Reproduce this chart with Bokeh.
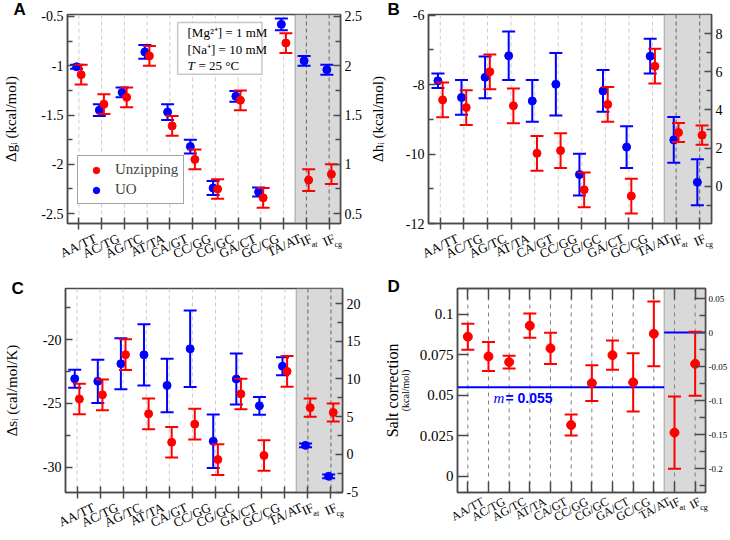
import numpy as np
from bokeh.plotting import figure
from bokeh.models import (Range1d, LinearAxis, FixedTicker, Label, Legend, LegendItem,
                          BoxAnnotation, Span)
from bokeh.layouts import column, row
from bokeh.embed import file_html
from bokeh.resources import INLINE

# ---------------- data ----------------
categories = ["AA/TT", "AC/TG", "AG/TC", "AT/TA", "CA/GT", "CC/GG", "CG/GC", "GA/CT", "GC/CG", "TA/AT"]
if_names = ["IF", "IF"]
if_subs = ["at", "cg"]

# Panel A: free energy (kcal/mol); IF values on right axis
dg_unz = [-1.09, -1.39, -1.32, -0.90, -1.61, -1.95, -2.25, -1.35, -2.34, -0.77]
dg_unz_err = [0.10, 0.10, 0.10, 0.10, 0.10, 0.10, 0.10, 0.10, 0.10, 0.10]
dg_uo = [-1.01, -1.45, -1.27, -0.86, -1.47, -1.82, -2.24, -1.31, -2.28, -0.58]
dg_uo_err = [0.02, 0.06, 0.05, 0.07, 0.08, 0.07, 0.07, 0.055, 0.045, 0.06]
dg_if_unz = [0.84, 0.90]
dg_if_unz_err = [0.11, 0.10]
dg_if_uo = [2.05, 1.96]
dg_if_uo_err = [0.05, 0.05]

# Panel B: enthalpy (kcal/mol)
dh_unz = [-8.44, -8.66, -7.63, -8.61, -9.98, -9.90, -11.03, -8.57, -11.21, -7.47]
dh_unz_err = [0.5, 0.5, 0.5, 0.5, 0.5, 0.5, 0.5, 0.5, 0.5, 0.5]
dh_uo = [-7.89, -8.37, -7.79, -7.17, -8.47, -7.99, -10.59, -8.18, -9.80, -7.18]
dh_uo_err = [0.21, 0.5, 0.6, 0.7, 0.6, 0.9, 0.6, 0.6, 0.6, 0.5]
dh_if_unz = [2.82, 2.68]
dh_if_unz_err = [0.5, 0.5]
dh_if_uo = [2.43, 0.21]
dh_if_uo_err = [1.2, 1.2]

# Panel C: entropy (cal/mol/K)
ds_unz = [-24.67, -24.34, -21.19, -25.83, -28.06, -26.64, -29.42, -24.27, -29.10, -22.50]
ds_unz_err = [1.2, 1.2, 1.2, 1.2, 1.2, 1.2, 1.2, 1.2, 1.2, 1.2]
ds_uo = [-23.08, -23.28, -21.90, -21.20, -23.60, -20.73, -27.98, -23.10, -25.20, -22.10]
ds_uo_err = [0.7, 1.7, 2.0, 2.4, 2.1, 3.0, 2.1, 2.0, 0.7, 0.7]
ds_if_unz = [6.2, 5.56]
ds_if_unz_err = [1.2, 1.2]
ds_if_uo = [1.2, -2.9]
ds_if_uo_err = [0.25, 0.25]

# Panel D: salt correction (kcal/mol)
salt = [0.0862, 0.074, 0.0705, 0.093, 0.079, 0.0316, 0.0575, 0.0748, 0.058, 0.088]
salt_err = [0.008, 0.009, 0.004, 0.0075, 0.0096, 0.0065, 0.011, 0.009, 0.018, 0.020]
salt_if = [-0.147, -0.046]
salt_if_err = [0.053, 0.047]
m_salt = 0.055
if_ref = 0.0

# ---------------- style ----------------
SERIF = "Liberation Serif"
SANS = "Liberation Sans"
RED = "#ff0000"
BLUE = "#0000ff"
FRAME = "#4a4a4a"
SHADE = "#d9d9d9"

N = len(categories)
X_CAT = np.arange(N, dtype=float)
X_IF = np.arange(N, N + 2, dtype=float)
X_RANGE = (-0.5, N + 1.5)
SHADE_START = N - 0.5
DX_UO, DX_UNZ = -0.1, 0.1
LAB_SHIFT = 2.0   # label axes use a shifted copy of the x range so shifted ticks stay in range

TIMES_W = {"A": .722, "C": .667, "G": .722, "T": .611, "/": .278, "I": .333, "F": .556,
           "a": .444, "t": .278, "c": .444, "g": .5}


def text_w(s, size):
    return sum(TIMES_W.get(ch, .5) for ch in s) * size


def fmt(v):
    return "%g" % v


def make_fig(w, h, bl, br, bt, bb, yr, yr2):
    p = figure(width=w, height=h, x_range=Range1d(*X_RANGE), y_range=Range1d(*yr),
               output_backend="svg", toolbar_location=None,
               min_border_left=bl, min_border_right=br, min_border_top=bt, min_border_bottom=bb)
    p.extra_y_ranges = {"r": Range1d(*yr2)}
    p.extra_x_ranges = {"lab": Range1d(X_RANGE[0] + LAB_SHIFT, X_RANGE[1] + LAB_SHIFT)}
    p.xgrid.visible = False
    p.ygrid.visible = False
    p.outline_line_color = FRAME
    p.outline_line_width = 1.5
    p.outline_line_alpha = 1.0
    p.background_fill_color = "white"
    p.border_fill_color = "white"
    return p


def style_axis(ax, major, minor, tin, tmin, size, tout=0, std=4):
    ax.ticker = FixedTicker(ticks=major, minor_ticks=minor)
    ax.major_label_overrides = {t: fmt(t) for t in major}
    ax.major_tick_in = tin
    ax.major_tick_out = tout
    ax.minor_tick_in = tmin
    ax.minor_tick_out = 0
    ax.axis_line_color = FRAME
    ax.axis_line_width = 1.5
    ax.major_tick_line_color = FRAME
    ax.minor_tick_line_color = FRAME
    ax.major_tick_line_width = 1.5
    ax.minor_tick_line_width = 1.5
    ax.major_label_text_font = SERIF
    ax.major_label_text_font_size = size
    ax.major_label_text_color = "black"
    ax.major_label_standoff = std


def blank_x_axis(ax, tin, tout):
    ticks = list(range(N + 2))
    ax.ticker = FixedTicker(ticks=ticks)
    ax.major_label_overrides = {t: "" for t in ticks}
    ax.major_label_text_font_size = "0px"
    ax.major_tick_in = tin
    ax.major_tick_out = tout
    ax.minor_tick_line_color = None
    ax.axis_line_color = FRAME
    ax.axis_line_width = 1.5
    ax.major_tick_line_color = FRAME
    ax.major_tick_line_width = 1.5
    ax.major_label_standoff = 0


def setup_axes(p, lmaj, lmin, rmaj, rmin, label, lab_standoff, tin=7, tmin=5,
               lsize="14px", rsize="14px", xin=6, xout=6, top=False, label_size="15px", rstd=4):
    ya = p.yaxis[0]
    style_axis(ya, lmaj, lmin, tin, tmin, lsize)
    ya.axis_label = label
    ya.axis_label_text_font = SERIF
    ya.axis_label_text_font_style = "normal"
    ya.axis_label_text_font_size = label_size
    ya.axis_label_text_color = "black"
    ya.axis_label_standoff = lab_standoff
    ra = LinearAxis(y_range_name="r")
    style_axis(ra, rmaj, rmin, tin, tmin, rsize, std=rstd)
    p.add_layout(ra, "right")
    blank_x_axis(p.xaxis[0], xin, xout)
    if top:
        ta = LinearAxis()
        blank_x_axis(ta, xin, 0)
        p.add_layout(ta, "above")


def cat_axes(p, fw, ang, size, std=2, sub_std=-37, sub_size=8):
    ppu = fw / (X_RANGE[1] - X_RANGE[0])
    c = np.cos(ang)
    names = categories + if_names
    ticks, over = [], {}
    for i, nm in enumerate(names):
        t = float(i + LAB_SHIFT + text_w(nm, size) / 2 * c / ppu)
        ticks.append(t)
        over[t] = nm
    ax = LinearAxis(x_range_name="lab", ticker=FixedTicker(ticks=ticks), major_label_overrides=over,
                    major_label_orientation=float(ang), major_label_standoff=std,
                    major_label_text_font=SERIF, major_label_text_font_size=f"{size}px",
                    major_label_text_color="black",
                    axis_line_color=None, major_tick_line_color=None, minor_tick_line_color=None)
    p.add_layout(ax, "below")
    # small subscripts after "IF" (horizontal, centred on their tick)
    sticks, sover = [], {}
    for xi, sub in zip(X_IF, if_subs):
        px = text_w("IF", size) / 2 * c + 0.5 + text_w(sub, sub_size) / 2
        t = float(xi + LAB_SHIFT + px / ppu)
        sticks.append(t)
        sover[t] = sub
    sax = LinearAxis(x_range_name="lab", ticker=FixedTicker(ticks=sticks), major_label_overrides=sover,
                     major_label_orientation="horizontal", major_label_standoff=sub_std,
                     major_label_text_font=SERIF, major_label_text_font_size=f"{sub_size}px",
                     major_label_text_color="black",
                     axis_line_color=None, major_tick_line_color=None, minor_tick_line_color=None)
    p.add_layout(sax, "below")


def shading_and_grid(p, light, dark, dash):
    p.add_layout(BoxAnnotation(left=SHADE_START, fill_color=SHADE, fill_alpha=1.0,
                               line_color=FRAME, line_width=1.5, level="underlay"))
    for x in X_CAT:
        p.add_layout(Span(location=float(x), dimension="height", line_color=light,
                          line_dash=dash, line_width=1, level="underlay"))
    for x in X_IF:
        p.add_layout(Span(location=float(x), dimension="height", line_color=dark,
                          line_dash=dash, line_width=1, level="underlay"))


def series(p, xs, ys, es, color, rname=None, cap=13, size=8, lw=2):
    xs = np.asarray(xs, float)
    ys = np.asarray(ys, float)
    es = np.asarray(es, float)
    kw = {"y_range_name": rname} if rname else {}
    p.segment(x0=xs, y0=ys - es, x1=xs, y1=ys + es, line_color=color, line_width=lw, **kw)
    p.scatter(x=np.concatenate([xs, xs]), y=np.concatenate([ys - es, ys + es]), marker="dash",
              size=cap, line_color=color, line_width=lw, **kw)
    return p.scatter(x=xs, y=ys, marker="circle", size=size, fill_color=color,
                     line_color=color, **kw)


def letter(p, txt, offset, standoff):
    p.title.text = txt
    p.title.align = "left"
    p.title.offset = offset
    p.title.standoff = standoff
    p.title.text_font = SANS
    p.title.text_font_style = "bold"
    p.title.text_font_size = "17px"
    p.title.text_color = "black"


H = 270

# ---------------- Panel A ----------------
WA, BA = 365, (57, 23, 14, 46)
yrA, yrA2 = (-2.6, -0.48), (0.4, 2.52)
pA = make_fig(WA, H, *BA, yrA, yrA2)
setup_axes(pA, [-2.5, -2, -1.5, -1, -0.5], [-2.25, -1.75, -1.25, -0.75],
           [0.5, 1, 1.5, 2, 2.5], [0.75, 1.25, 1.75, 2.25], "Δgᵢ (kcal/mol)", 19)
shading_and_grid(pA, "#cccccc", "#666666", "4 3")
r_uo = series(pA, X_CAT + DX_UO, dg_uo, dg_uo_err, BLUE)
series(pA, X_IF + DX_UO, dg_if_uo, dg_if_uo_err, BLUE, "r")
r_unz = series(pA, X_CAT + DX_UNZ, dg_unz, dg_unz_err, RED)
series(pA, X_IF + DX_UNZ, dg_if_unz, dg_if_unz_err, RED, "r")
cat_axes(pA, WA - BA[0] - BA[1], 0.44, 13)
letter(pA, "A", -54, -8)

legA = Legend(items=[LegendItem(label="Unzipping", renderers=[r_unz]),
                     LegendItem(label="UO", renderers=[r_uo])],
              location=(10, 19), border_line_color=FRAME, border_line_width=1.5,
              background_fill_color="white", background_fill_alpha=1.0,
              label_text_font=SERIF, label_text_font_size="15px",
              glyph_width=26, glyph_height=16, label_height=16, spacing=3,
              padding=5, margin=0, label_standoff=6)
pA.add_layout(legA)

fwA, fhA = WA - BA[0] - BA[1], H - BA[2] - BA[3]


def ax_x(px, fw):
    return X_RANGE[0] + px / fw * (X_RANGE[1] - X_RANGE[0])


def ax_y(py, fh, yr):
    return yr[1] - py / fh * (yr[1] - yr[0])


pA.add_layout(BoxAnnotation(left=ax_x(115, fwA), right=ax_x(203, fwA),
                            top=ax_y(8, fhA, yrA), bottom=ax_y(60, fhA, yrA),
                            fill_color="white", fill_alpha=1.0, line_color=FRAME, line_width=1.5))
for txt, yo in [("[Mg²⁺] = 1 mM", -18), ("[Na⁺] = 10 mM", -35)]:
    pA.add_layout(Label(x=X_RANGE[0], y=yrA[1], x_offset=120, y_offset=yo, text=txt,
                        text_align="left", text_baseline="middle", text_font=SERIF,
                        text_font_size="13px", text_color="black"))
pA.add_layout(Label(x=X_RANGE[0], y=yrA[1], x_offset=120, y_offset=-51, text="T",
                    text_align="left", text_baseline="middle", text_font=SERIF,
                    text_font_style="italic", text_font_size="13px", text_color="black"))
pA.add_layout(Label(x=X_RANGE[0], y=yrA[1], x_offset=131, y_offset=-51, text="= 25 °C",
                    text_align="left", text_baseline="middle", text_font=SERIF,
                    text_font_size="13px", text_color="black"))

# ---------------- Panel B ----------------
WB, BB = 365, (63, 19, 14, 46)
yrB, yrB2 = (-12.0, -5.98), (-1.95, 9.0)
pB = make_fig(WB, H, *BB, yrB, yrB2)
setup_axes(pB, [-12, -10, -8, -6], [-11, -9, -7],
           [-2, 0, 2, 4, 6, 8], [-1, 1, 3, 5, 7], "Δhᵢ (kcal/mol)", 17)
shading_and_grid(pB, "#cccccc", "#666666", "4 3")
series(pB, X_CAT + DX_UO, dh_uo, dh_uo_err, BLUE)
series(pB, X_IF + DX_UO, dh_if_uo, dh_if_uo_err, BLUE, "r")
series(pB, X_CAT + DX_UNZ, dh_unz, dh_unz_err, RED)
series(pB, X_IF + DX_UNZ, dh_if_unz, dh_if_unz_err, RED, "r")
cat_axes(pB, WB - BB[0] - BB[1], 0.44, 13)
letter(pB, "B", -41, -8)

# ---------------- Panel C ----------------
WC, BC = 365, (57, 23, 18, 41)
yrC, yrC2 = (-32.0, -16.0), (-5.05, 22.0)
pC = make_fig(WC, H, *BC, yrC, yrC2)
setup_axes(pC, [-30, -25, -20], [-27.5, -22.5, -17.5],
           [-5, 0, 5, 10, 15, 20], [-2.5, 2.5, 7.5, 12.5, 17.5], "Δsᵢ (cal/mol/K)", 20)
shading_and_grid(pC, "#cccccc", "#666666", "4 3")
series(pC, X_CAT + DX_UO, ds_uo, ds_uo_err, BLUE)
series(pC, X_IF + DX_UO, ds_if_uo, ds_if_uo_err, BLUE, "r")
series(pC, X_CAT + DX_UNZ, ds_unz, ds_unz_err, RED)
series(pC, X_IF + DX_UNZ, ds_if_unz, ds_if_unz_err, RED, "r")
cat_axes(pC, WC - BC[0] - BC[1], 0.44, 13)
letter(pC, "C", -54, -18)

# ---------------- Panel D ----------------
WD, BD = 365, (92, 22, 18, 48)
yrD, yrD2 = (-0.0101, 0.116), (-0.235, 0.0647)
pD = make_fig(WD, H, *BD, yrD, yrD2)
setup_axes(pD, [0, 0.025, 0.05, 0.075, 0.1], [],
           [-0.2, -0.15, -0.1, -0.05, 0, 0.05], [-0.225, -0.175, -0.125, -0.075, -0.025, 0.025],
           "(kcal/mol)", 6, tin=11, tmin=6, lsize="15px", rsize="9px",
           xin=11, xout=0, top=True, label_size="10px", rstd=3)
outer = LinearAxis(ticker=FixedTicker(ticks=[]), axis_label="Salt correction",
                   axis_label_text_font=SERIF, axis_label_text_font_style="normal",
                   axis_label_text_font_size="16px", axis_label_text_color="black",
                   axis_label_standoff=-4, axis_line_color=None, major_tick_line_color=None,
                   minor_tick_line_color=None, major_label_text_font_size="0px",
                   major_label_standoff=0, major_tick_in=0, major_tick_out=0)
pD.add_layout(outer, "left")
shading_and_grid(pD, "#808080", "#808080", "4 4")
pD.segment(x0=[X_RANGE[0]], y0=[m_salt], x1=[SHADE_START], y1=[m_salt], line_color=BLUE, line_width=2)
pD.segment(x0=[SHADE_START], y0=[if_ref], x1=[X_RANGE[1]], y1=[if_ref], line_color=BLUE,
           line_width=2, y_range_name="r")
series(pD, X_CAT, salt, salt_err, RED, size=9)
series(pD, X_IF, salt_if, salt_if_err, RED, "r", size=9)
cat_axes(pD, WD - BD[0] - BD[1], 0.5, 12)
letter(pD, "D", -70, -14)
pD.add_layout(Label(x=X_RANGE[0], y=m_salt, x_offset=36, y_offset=-11, text="m",
                    text_align="left", text_baseline="middle", text_font=SERIF,
                    text_font_style="italic", text_font_size="15px", text_color=BLUE))
pD.add_layout(Label(x=X_RANGE[0], y=m_salt, x_offset=48, y_offset=-11, text="= " + fmt(m_salt),
                    text_align="left", text_baseline="middle", text_font=SANS,
                    text_font_style="bold", text_font_size="14px", text_color=BLUE))

layout = column(row(pA, pB), row(pC, pD))
open("out.html", "w").write(file_html(layout, INLINE))
